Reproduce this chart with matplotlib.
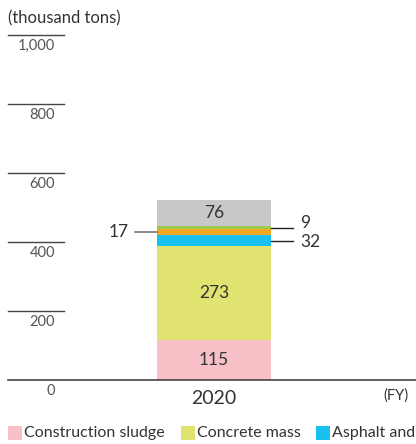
import matplotlib
matplotlib.use("Agg")
import matplotlib.pyplot as plt
from matplotlib.patches import Rectangle

plt.rcParams['font.family'] = ['Lato', 'DejaVu Sans']

years = ["2020"]
categories = ["Construction sludge", "Concrete mass", "Asphalt and", "Other 1", "Other 2", "Other 3"]
values = [115, 273, 32, 17, 9, 76]
colors = ["#F7C0C7", "#E0E370", "#17C0EF", "#F5A623", "#9BCB4E", "#C8C8CA"]
yticks = [0, 200, 400, 600, 800, 1000]
ytick_labels = ["0", "200", "400", "600", "800", "1,000"]

W, H = 416, 444
fig = plt.figure(figsize=(W / 100, H / 100), dpi=100)
ax = fig.add_axes([0, 64 / H, 1, 345 / H])
ax.set_ylim(0, 1000)
ax.set_xlim(-214 / 114, (416 - 214) / 114)
ax.axis("off")

txt = "#333333"
# bars
bottom = 0
for v, c in zip(values, colors):
    ax.bar(0, v, width=1.0, bottom=bottom, color=c, edgecolor="none", zorder=2)
    bottom += v

# inside labels
cum = [sum(values[:i]) for i in range(len(values))]
for i in (0, 1, 5):
    ax.text(0, cum[i] + values[i] / 2, str(values[i]), ha="center", va="center",
            fontsize=12.5, color=txt, zorder=3)

# leader labels
ytr = ax.get_yaxis_transform()
# 17 on left
y17 = cum[3] + values[3] / 2
ax.plot([135 / W, 157 / W], [y17, y17], transform=ytr, color="#777777", lw=1.2, clip_on=False)
ax.text(129 / W, y17, "17", transform=ytr, ha="right", va="center", fontsize=12.5, color=txt)
# 9 on right
y9 = cum[4] + values[4] / 2
ax.plot([271 / W, 293 / W], [y9, y9], transform=ytr, color="#222222", lw=1.0, clip_on=False)
ax.text(300 / W, y9 + 14, "9", transform=ytr, ha="left", va="center", fontsize=12.5, color=txt)
# 32 on right
y32 = cum[2] + values[2] / 2
ax.plot([271 / W, 293 / W], [y32, y32], transform=ytr, color="#222222", lw=1.0, clip_on=False)
ax.text(300 / W, y32 - 3, "32", transform=ytr, ha="left", va="center", fontsize=12.5, color=txt)

# y grid stubs and labels
for t, lab in zip(yticks, ytick_labels):
    if t > 0:
        ax.plot([8 / W, 64 / W], [t, t], transform=ytr, color="#444444", lw=1.0, clip_on=False)
    ax.annotate(lab, xy=(55 / W, t), xycoords=ytr, xytext=(0, -8), textcoords="offset points",
                ha="right", va="center", fontsize=10.5, color="#555555", annotation_clip=False)

# axis baseline
ax.plot([8 / W, 1], [0, 0], transform=ytr, color="#444444", lw=1.2, clip_on=False, zorder=3)

# x label
ax.annotate(years[0], xy=(0, 0), xycoords=("data", "data"), xytext=(0, -13), textcoords="offset points",
            ha="center", va="center", fontsize=14, color=txt, annotation_clip=False)
fig.text(396 / W, 1 - 396 / H, "(FY)", ha="center", va="center", fontsize=10.5, color=txt)

# unit
fig.text(8 / W, 1 - 18 / H, "(thousand tons)", ha="left", va="center", fontsize=12, color=txt)

# legend
leg_items = [(8, categories[0], colors[0]), (181, categories[1], colors[1]), (316, categories[2], colors[2])]
for x0, lab, c in leg_items:
    fig.patches.append(Rectangle((x0 / W, 1 - 440 / H), 14 / W, 14 / H, transform=fig.transFigure,
                                 facecolor=c, edgecolor="none"))
    fig.text((x0 + 16) / W, 1 - 433 / H, lab, ha="left", va="center", fontsize=11.5, color=txt)

fig.savefig("out.png", dpi=100)
